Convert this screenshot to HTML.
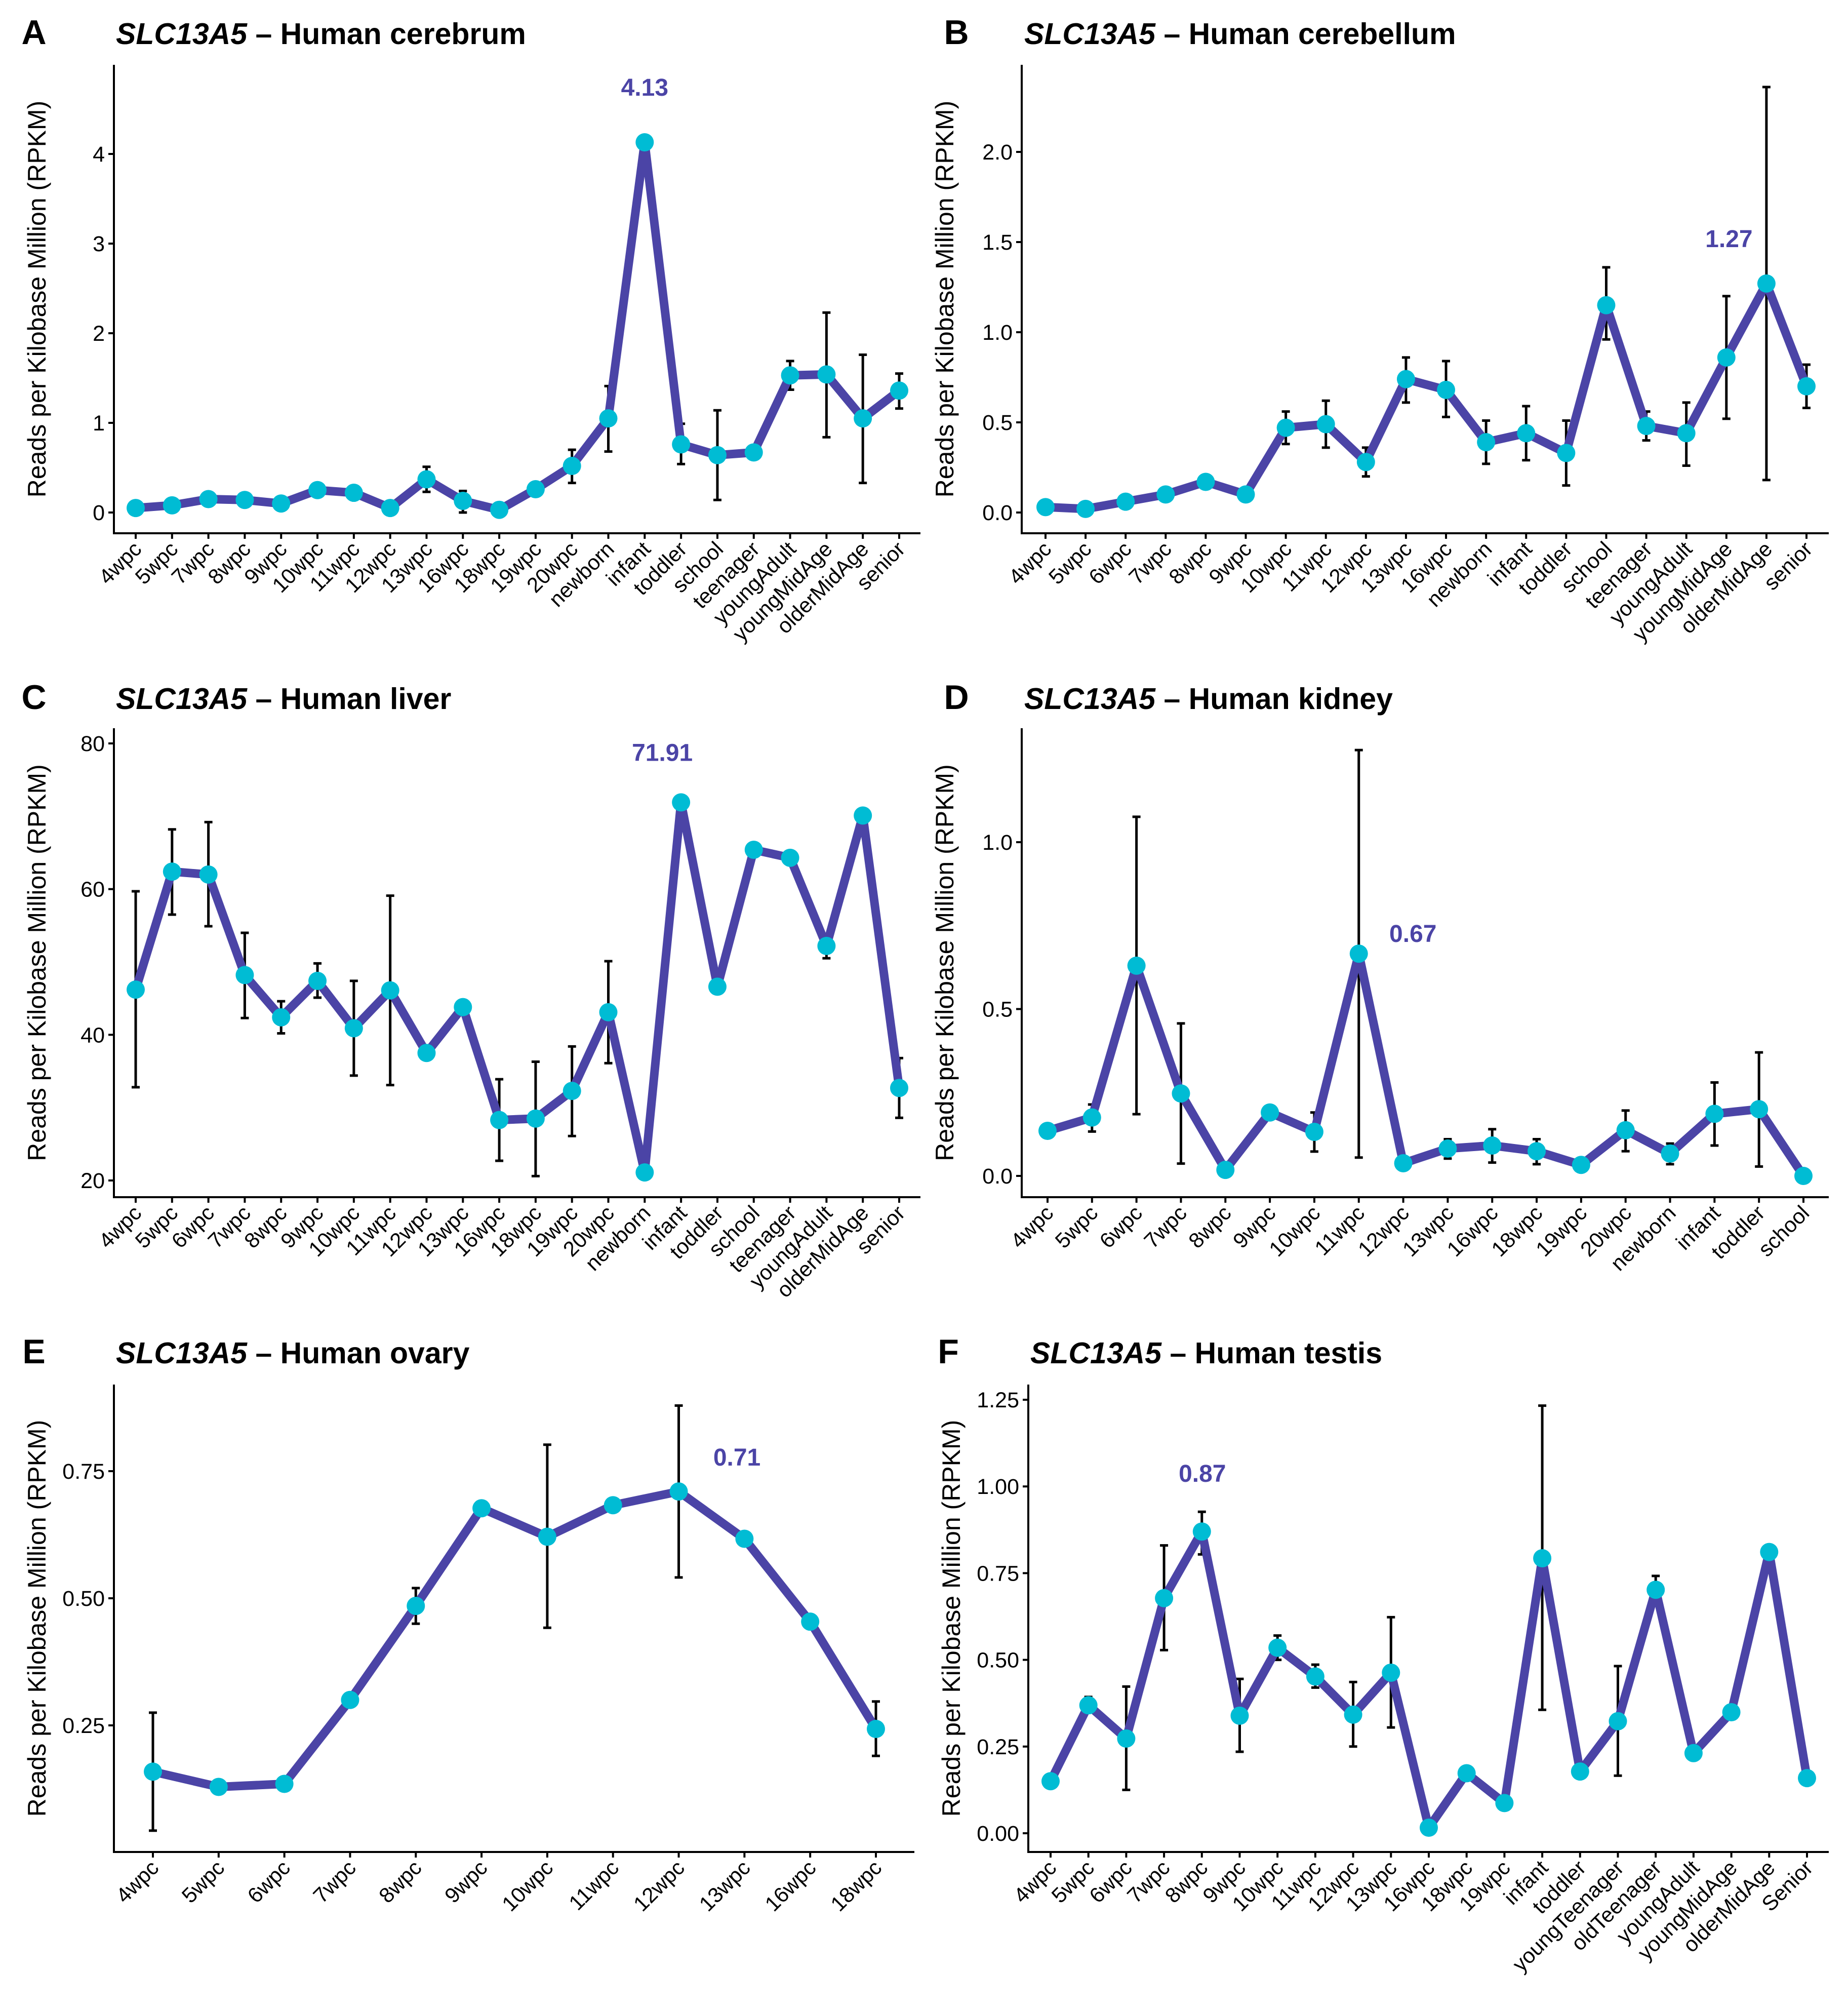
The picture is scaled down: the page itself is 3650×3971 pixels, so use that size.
<!DOCTYPE html>
<html><head><meta charset="utf-8">
<style>
html,body{margin:0;padding:0;background:#fff;}
svg{display:block;}
text{font-family:"Liberation Sans",Arial,sans-serif;}
</style></head>
<body>
<svg id="fig" width="3650" height="3971" viewBox="0 0 3650 3971" xmlns="http://www.w3.org/2000/svg"></svg>
<script>
// ---- Panel A: cerebrum ----
const aCats = ["4wpc","5wpc","7wpc","8wpc","9wpc","10wpc","11wpc","12wpc","13wpc","16wpc","18wpc","19wpc","20wpc","newborn","infant","toddler","school","teenager","youngAdult","youngMidAge","olderMidAge","senior"];
const aVals = [0.05,0.08,0.15,0.14,0.10,0.25,0.22,0.05,0.37,0.13,0.03,0.26,0.52,1.05,4.13,0.76,0.64,0.67,1.53,1.54,1.05,1.36];
const aLo   = [null,null,null,null,null,null,null,null,0.23,0.0,null,null,0.33,0.68,null,0.54,0.14,0.62,1.37,0.84,0.33,1.16];
const aHi   = [null,null,null,null,null,null,null,null,0.51,0.24,null,null,0.70,1.41,null,0.99,1.14,0.72,1.69,2.23,1.76,1.55];
const aTicks = [0,1,2,3,4];
const aTickLabels = ["0","1","2","3","4"];
// ---- Panel B: cerebellum ----
const bCats = ["4wpc","5wpc","6wpc","7wpc","8wpc","9wpc","10wpc","11wpc","12wpc","13wpc","16wpc","newborn","infant","toddler","school","teenager","youngAdult","youngMidAge","olderMidAge","senior"];
const bVals = [0.03,0.02,0.06,0.10,0.17,0.10,0.47,0.49,0.28,0.74,0.68,0.39,0.44,0.33,1.15,0.48,0.44,0.86,1.27,0.70];
const bLo   = [null,null,null,null,null,null,0.38,0.36,0.20,0.61,0.53,0.27,0.29,0.15,0.96,0.40,0.26,0.52,0.18,0.58];
const bHi   = [null,null,null,null,null,null,0.56,0.62,0.36,0.86,0.84,0.51,0.59,0.51,1.36,0.56,0.61,1.20,2.36,0.82];
const bTicks = [0,0.5,1.0,1.5,2.0];
const bTickLabels = ["0.0","0.5","1.0","1.5","2.0"];
// ---- Panel C: liver ----
const cCats = ["4wpc","5wpc","6wpc","7wpc","8wpc","9wpc","10wpc","11wpc","12wpc","13wpc","16wpc","18wpc","19wpc","20wpc","newborn","infant","toddler","school","teenager","youngAdult","olderMidAge","senior"];
const cVals = [46.2,62.4,62.0,48.2,42.4,47.4,40.9,46.1,37.5,43.8,28.3,28.5,32.3,43.1,21.1,71.91,46.6,65.4,64.3,52.2,70.1,32.7];
const cLo   = [32.8,56.5,54.9,42.3,40.2,45.1,34.4,33.1,null,null,22.7,20.6,26.1,36.1,null,null,null,null,null,50.5,null,28.6];
const cHi   = [59.7,68.2,69.2,54.0,44.6,49.8,47.4,59.1,null,null,33.9,36.3,38.4,50.1,null,null,null,null,null,53.5,null,36.8];
const cTicks = [20,40,60,80];
const cTickLabels = ["20","40","60","80"];
// ---- Panel D: kidney ----
const dCats = ["4wpc","5wpc","6wpc","7wpc","8wpc","9wpc","10wpc","11wpc","12wpc","13wpc","16wpc","18wpc","19wpc","20wpc","newborn","infant","toddler","school"];
const dVals = [0.135,0.175,0.63,0.247,0.018,0.19,0.132,0.666,0.038,0.082,0.091,0.074,0.033,0.137,0.067,0.186,0.20,0.0];
const dLo   = [null,0.133,0.185,0.037,null,null,0.073,0.055,null,0.052,0.040,0.035,null,0.074,0.035,0.091,0.028,null];
const dHi   = [null,0.214,1.076,0.457,null,null,0.190,1.276,null,0.110,0.140,0.110,null,0.196,0.097,0.280,0.370,null];
const dTicks = [0,0.5,1.0];
const dTickLabels = ["0.0","0.5","1.0"];
// ---- Panel E: ovary ----
const eCats = ["4wpc","5wpc","6wpc","7wpc","8wpc","9wpc","10wpc","11wpc","12wpc","13wpc","16wpc","18wpc"];
const eVals = [0.159,0.129,0.135,0.30,0.485,0.677,0.621,0.683,0.71,0.617,0.454,0.243];
const eLo   = [0.043,null,null,0.29,0.45,null,0.442,null,0.541,null,null,0.19];
const eHi   = [0.275,null,null,0.31,0.52,null,0.802,null,0.879,null,null,0.297];
const eTicks = [0.25,0.50,0.75];
const eTickLabels = ["0.25","0.50","0.75"];
// ---- Panel F: testis ----
const fCats = ["4wpc","5wpc","6wpc","7wpc","8wpc","9wpc","10wpc","11wpc","12wpc","13wpc","16wpc","18wpc","19wpc","infant","toddler","youngTeenager","oldTeenager","youngAdult","youngMidAge","olderMidAge","Senior"];
const fVals = [0.15,0.369,0.273,0.678,0.87,0.339,0.535,0.452,0.342,0.463,0.016,0.173,0.087,0.793,0.178,0.323,0.702,0.231,0.349,0.811,0.159];
const fLo   = [null,0.355,0.125,0.528,0.804,0.235,0.50,0.42,0.25,0.305,null,null,null,0.356,null,0.166,0.69,null,null,null,null];
const fHi   = [null,0.393,0.423,0.83,0.927,0.445,0.57,0.486,0.436,0.623,null,null,null,1.233,null,0.482,0.742,null,null,null,null];
const fTicks = [0,0.25,0.5,0.75,1.0,1.25];
const fTickLabels = ["0.00","0.25","0.50","0.75","1.00","1.25"];

const panels = [
 {id:"a",letter:"A",tissue:"Human cerebrum",cats:aCats,vals:aVals,lo:aLo,hi:aHi,ticks:aTicks,tl:aTickLabels,
  ax:225,top:128,bottom:1053,right:1818,x0:268,x1:1776,yv0:0,yp0:1012,yv1:4,yp1:304,lx:67,tx:229,ty:87,pdx:0,pdy:-109},
 {id:"b",letter:"B",tissue:"Human cerebellum",cats:bCats,vals:bVals,lo:bLo,hi:bHi,ticks:bTicks,tl:bTickLabels,
  ax:2018,top:128,bottom:1053,right:3612,x0:2065,x1:3568,yv0:0,yp0:1012,yv1:2,yp1:300,lx:1889,tx:2023,ty:87,pdx:-74,pdy:-89},
 {id:"c",letter:"C",tissue:"Human liver",cats:cCats,vals:cVals,lo:cLo,hi:cHi,ticks:cTicks,tl:cTickLabels,
  ax:225,top:1438,bottom:2364,right:1818,x0:268,x1:1776,yv0:20,yp0:2331,yv1:80,yp1:1468,lx:67,tx:229,ty:1400,pdx:-37,pdy:-99},
 {id:"d",letter:"D",tissue:"Human kidney",cats:dCats,vals:dVals,lo:dLo,hi:dHi,ticks:dTicks,tl:dTickLabels,
  ax:2018,top:1438,bottom:2364,right:3612,x0:2069,x1:3562,yv0:0,yp0:2322,yv1:1,yp1:1663,lx:1889,tx:2023,ty:1400,pdx:107,pdy:-40},
 {id:"e",letter:"E",tissue:"Human ovary",cats:eCats,vals:eVals,lo:eLo,hi:eHi,ticks:eTicks,tl:eTickLabels,
  ax:225,top:2734,bottom:3657,right:1806,x0:302,x1:1730,yv0:0.25,yp0:3407,yv1:0.75,yp1:2905,lx:67,tx:229,ty:2692,pdx:115,pdy:-68},
 {id:"f",letter:"F",tissue:"Human testis",cats:fCats,vals:fVals,lo:fLo,hi:fHi,ticks:fTicks,tl:fTickLabels,
  ax:2031,top:2734,bottom:3657,right:3612,x0:2075,x1:3569,yv0:0,yp0:3620,yv1:1.25,yp1:2764,lx:1873,tx:2035,ty:2692,pdx:1,pdy:-115}
];

const NS="http://www.w3.org/2000/svg";
const svg=document.getElementById("fig");
function mk(tag,attrs,parent){const e=document.createElementNS(NS,tag);for(const k in attrs)e.setAttribute(k,attrs[k]);(parent||svg).appendChild(e);return e;}
const LINE="#4B44A6", PT="#00BCD4";

panels.forEach(p=>{
  const g=mk("g",{});
  
  
  const n=p.cats.length;
  const xs=i=>p.x0+(p.x1-p.x0)*i/(n-1);
  const ys=v=>p.yp0+(v-p.yv0)*(p.yp1-p.yp0)/(p.yv1-p.yv0);

  const L=mk("text",{x:p.lx,y:p.ty,"text-anchor":"middle","font-size":68,"font-weight":"bold",fill:"#000"},g);
  L.textContent=p.letter;
  
  
  const T=mk("text",{x:p.tx,y:p.ty,"font-size":59,"font-weight":"bold",fill:"#000"},g);
  
  
  const t1=mk("tspan",{"font-style":"italic"},T); t1.textContent="SLC13A5";
  const t2=mk("tspan",{},T); t2.textContent=" \u2013 "+p.tissue;

  const yl=mk("text",{x:0,y:0,"text-anchor":"middle","font-size":50,fill:"#000",
    transform:"translate("+(p.ax-135)+","+((p.top+p.bottom)/2)+") rotate(-90)"},g);
  yl.textContent="Reads per Kilobase Million (RPKM)";
  
  

  const ya=mk("line",{x1:p.ax,y1:p.top,x2:p.ax,y2:p.bottom,stroke:"#000","stroke-width":4},g);
  
  
  const xa=mk("line",{x1:p.ax-2,y1:p.bottom,x2:p.right,y2:p.bottom,stroke:"#000","stroke-width":4},g);
  
  

  p.ticks.forEach((t,i)=>{
    const y=ys(t);
    mk("line",{x1:p.ax-11,y1:y,x2:p.ax,y2:y,stroke:"#000","stroke-width":4},g);
    const tx=mk("text",{x:p.ax-18,y:y+15,"text-anchor":"end","font-size":43,fill:"#000"},g);
    tx.textContent=p.tl[i];
    
    
  });
  p.cats.forEach((c,i)=>{
    const x=xs(i);
    mk("line",{x1:x,y1:p.bottom,x2:x,y2:p.bottom+11,stroke:"#000","stroke-width":4},g);
    const tx=mk("text",{x:0,y:0,"text-anchor":"end","font-size":42,fill:"#000",
      transform:"translate("+(x+14)+","+(p.bottom+34)+") rotate(-45)"},g);
    tx.textContent=c;
    
    
  });

  p.cats.forEach((c,i)=>{
    if(p.lo[i]==null||p.hi[i]==null)return;
    const x=xs(i),y1=ys(p.lo[i]),y2=ys(p.hi[i]);
    const eb=mk("g",{stroke:"#000","stroke-width":5},g);
    
    
    mk("line",{x1:x,y1:y1,x2:x,y2:y2},eb);
    mk("line",{x1:x-8,y1:y1,x2:x+8,y2:y1},eb);
    mk("line",{x1:x-8,y1:y2,x2:x+8,y2:y2},eb);
  });
  const pts=p.vals.map((v,i)=>xs(i).toFixed(1)+","+ys(v).toFixed(1)).join(" ");
  const pl=mk("polyline",{points:pts,fill:"none",stroke:LINE,"stroke-width":17,"stroke-linejoin":"round"},g);
  
  
  p.vals.forEach((v,i)=>{
    const c=mk("circle",{cx:xs(i),cy:ys(v),r:18,fill:PT},g);
    
    
  });
  let mi=0; p.vals.forEach((v,i)=>{if(v>p.vals[mi])mi=i;});
  const pk=mk("text",{x:xs(mi)+p.pdx,y:ys(p.vals[mi])+p.pdy+17,"text-anchor":"middle","font-size":48,"font-weight":"bold",fill:LINE},g);
  pk.textContent=p.vals[mi].toFixed(2);
  
  
});
</script>
</body></html>
